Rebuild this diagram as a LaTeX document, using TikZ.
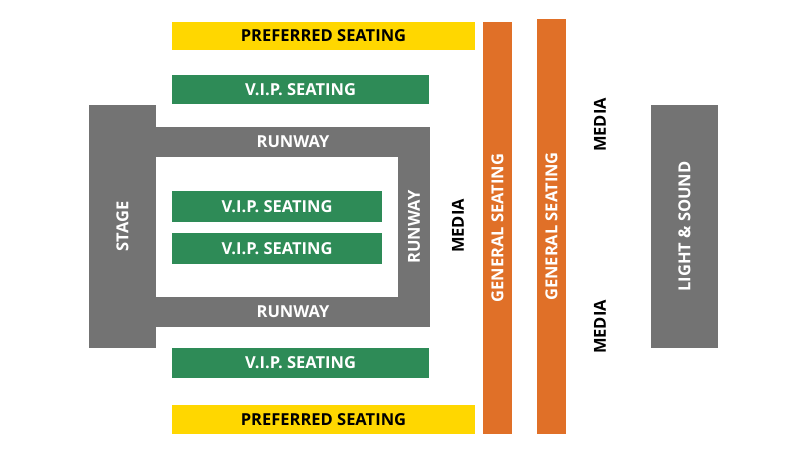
\documentclass[tikz,border=0pt]{standalone}
\usepackage{fontspec}
\setmainfont{Open Sans}
\definecolor{gy}{HTML}{737373}
\definecolor{gn}{HTML}{2E8B57}
\definecolor{yl}{HTML}{FFD700}
\definecolor{og}{HTML}{E07028}
\tikzset{x=1pt,y=-1pt,
 lbl/.style={font=\bfseries\fontsize{16.5}{19}\selectfont},
 wl/.style={lbl,text=white},
 bl/.style={lbl,text=black}}
\begin{document}
\begin{tikzpicture}
\useasboundingbox (0,0) rectangle (807,454);
\fill[white] (0,0) rectangle (807,454);
\fill[yl] (172,22) rectangle (475,50) coordinate (p1);
\node[bl] (pt) at (323.5,36) {PREFERRED SEATING};
\fill[gn] (172,75) rectangle (429,104);
\node[wl] (v1) at (300.5,89.5) {V.I.P. SEATING};
\fill[gy] (89,105) rectangle (156,348);
\node[wl,rotate=90] (st) at (122.5,226.5) {STAGE};
\fill[gy] (156,127) rectangle (430,157);
\fill[gy] (398,127) rectangle (430,327);
\fill[gy] (156,297) rectangle (430,327);
\node[wl] (r1) at (293,142) {RUNWAY};
\node[wl,rotate=90] (r2) at (414,227) {RUNWAY};
\node[wl] (r3) at (293,312) {RUNWAY};
\fill[gn] (172,191) rectangle (382,222);
\node[wl] (v2) at (277,206.5) {V.I.P. SEATING};
\fill[gn] (172,233) rectangle (382,264);
\node[wl] (v3) at (277,248.5) {V.I.P. SEATING};
\fill[gn] (172,348) rectangle (429,378);
\node[wl] (v4) at (300.5,363) {V.I.P. SEATING};
\fill[yl] (172,405) rectangle (475,434);
\node[bl] (pb) at (323.5,419.5) {PREFERRED SEATING};
\fill[og] (483,22) rectangle (512,434);
\node[wl,rotate=90] (g1) at (497.5,228) {GENERAL SEATING};
\fill[og] (537,19) rectangle (566,434);
\node[wl,rotate=90] (g2) at (551.5,226.5) {GENERAL SEATING};
\node[bl,rotate=90] (m1) at (458,226) {MEDIA};
\node[bl,rotate=90] (m2) at (600,125) {MEDIA};
\node[bl,rotate=90] (m3) at (600,327) {MEDIA};
\fill[gy] (651,105) rectangle (718,348);
\node[wl,rotate=90] (ls) at (684.5,226.5) {LIGHT \& SOUND};
\end{tikzpicture}
\end{document}
